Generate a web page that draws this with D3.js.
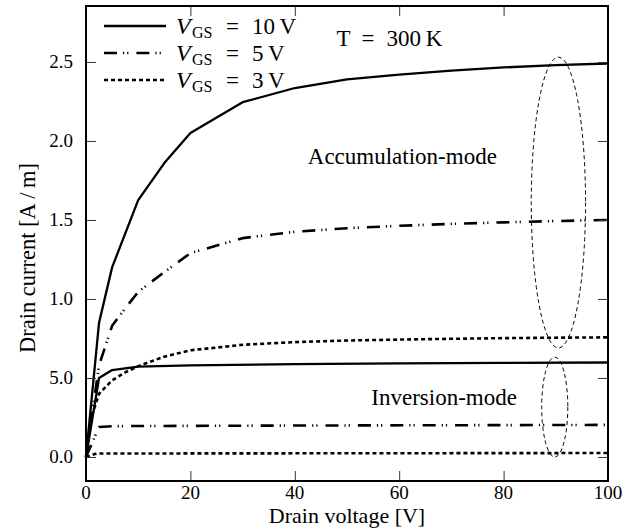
<!DOCTYPE html>
<html>
<head>
<meta charset="utf-8">
<script src="https://cdn.jsdelivr.net/npm/d3@7"></script>
<style>
  body { margin: 0; background: #fff; }
  svg { font-family: "Liberation Serif", "Times New Roman", serif; }
</style>
</head>
<body>
<svg id="chart" width="637" height="531"></svg>
<script>
// drain voltage / current values
const accX10 = [0, 2.5, 5, 10, 15, 20, 30, 40, 50, 60, 70, 80, 90, 100];
const accY10 = [0, 0.85, 1.2, 1.625, 1.86, 2.05, 2.245, 2.335, 2.39, 2.42, 2.445, 2.465, 2.48, 2.49];
const accX5 = [0, 2.5, 5, 7.5, 10, 15, 20, 30, 40, 50, 60, 70, 80, 90, 100];
const accY5 = [0, 0.58, 0.83, 0.94, 1.045, 1.17, 1.29, 1.385, 1.425, 1.448, 1.463, 1.475, 1.485, 1.493, 1.5];
const accX3 = [0, 1, 2.5, 5, 7.5, 10, 15, 20, 30, 40, 50, 60, 70, 80, 90, 100];
const accY3 = [0, 0.25, 0.4, 0.485, 0.535, 0.575, 0.635, 0.675, 0.71, 0.727, 0.737, 0.743, 0.748, 0.752, 0.755, 0.757];
const invX10 = [0, 2.5, 5, 10, 20, 40, 60, 80, 100];
const invY10 = [0, 0.5, 0.55, 0.572, 0.58, 0.588, 0.592, 0.596, 0.598];
const invX5 = [0, 2.5, 5, 10, 40, 100];
const invY5 = [0, 0.19, 0.195, 0.196, 0.199, 0.203];
const invX3 = [0, 2, 100];
const invY3 = [0, 0.022, 0.025];

const xTicks = [0, 20, 40, 60, 80, 100];
const yTicks = [0, 0.5, 1.0, 1.5, 2.0, 2.5];
const yTickLabels = ["0.0", "5.0", "1.0", "1.5", "2.0", "2.5"];
const legendVgs = ["10", "5", "3"];

const svg = d3.select("#chart");
const pLeft = 86, pRight = 608, pTop = 6, pBottom = 481;

const x = d3.scaleLinear().domain([0, 100]).range([pLeft, pRight]);
const y = d3.scaleLinear().domain([-0.152, 2.854]).range([pBottom, pTop]);

// line styles
const styles = [
  { width: 2.3, dash: null },
  { width: 2.6, dash: "13,6,1.2,3,1.2,8" },
  { width: 2.6, dash: "4,3" }
];

const series = [
  { xs: accX10, ys: accY10, s: 0 },
  { xs: accX5, ys: accY5, s: 1 },
  { xs: accX3, ys: accY3, s: 2 },
  { xs: invX10, ys: invY10, s: 0 },
  { xs: invX5, ys: invY5, s: 1 },
  { xs: invX3, ys: invY3, s: 2 }
];

const line = d3.line().x(d => x(d[0])).y(d => y(d[1]));

series.forEach(sr => {
  const pts = sr.xs.map((v, i) => [v, sr.ys[i]]);
  const st = styles[sr.s];
  svg.append("path")
    .attr("d", line(pts))
    .attr("fill", "none")
    .attr("stroke", "#000")
    .attr("stroke-width", st.width)
    .attr("stroke-linejoin", "round")
    .attr("stroke-dasharray", st.dash);
});

// dashed ellipses (data units)
const ellCx = [90.5, 89.8];
const ellCy = [1.61, 0.316];
const ellRx = [5.2, 2.5];
const ellRy = [0.92, 0.316];

ellCx.forEach((cx, i) => {
  svg.append("ellipse")
    .attr("cx", x(cx))
    .attr("cy", y(ellCy[i]))
    .attr("rx", x(cx + ellRx[i]) - x(cx))
    .attr("ry", y(ellCy[i] - ellRy[i]) - y(ellCy[i]))
    .attr("fill", "none")
    .attr("stroke", "#000")
    .attr("stroke-width", 1)
    .attr("stroke-dasharray", "4,3");
});

// axes with inward ticks on all four sides
const tickLen = 10;
svg.append("g")
  .attr("transform", `translate(0,${pBottom})`)
  .call(d3.axisTop(x).tickValues(xTicks).tickSize(tickLen).tickFormat(""))
  .call(g => g.select(".domain").remove());
svg.append("g")
  .attr("transform", `translate(0,${pTop})`)
  .call(d3.axisBottom(x).tickValues(xTicks).tickSize(tickLen).tickFormat(""))
  .call(g => g.select(".domain").remove());
svg.append("g")
  .attr("transform", `translate(${pLeft},0)`)
  .call(d3.axisRight(y).tickValues(yTicks).tickSize(tickLen).tickFormat(""))
  .call(g => g.select(".domain").remove());
svg.append("g")
  .attr("transform", `translate(${pRight},0)`)
  .call(d3.axisLeft(y).tickValues(yTicks).tickSize(tickLen).tickFormat(""))
  .call(g => g.select(".domain").remove());
svg.selectAll(".tick line").attr("stroke", "#333").attr("stroke-width", 1);

svg.append("rect")
  .attr("x", pLeft).attr("y", pTop)
  .attr("width", pRight - pLeft).attr("height", pBottom - pTop)
  .attr("fill", "none").attr("stroke", "#000").attr("stroke-width", 2);

// tick labels
svg.selectAll(".xl").data(xTicks).enter().append("text")
  .attr("x", d => x(d)).attr("y", 499)
  .attr("text-anchor", "middle").attr("font-size", 19)
  .text(d => d);
svg.selectAll(".yl").data(yTicks).enter().append("text")
  .attr("x", 73).attr("y", d => y(d) + 6.5)
  .attr("text-anchor", "end").attr("font-size", 19)
  .text((d, i) => yTickLabels[i]);

// axis titles
svg.append("text")
  .attr("x", 347).attr("y", 523)
  .attr("text-anchor", "middle").attr("font-size", 22)
  .text("Drain voltage [V]");
svg.append("text")
  .attr("transform", "translate(35,258) rotate(-90)")
  .attr("text-anchor", "middle").attr("font-size", 22.5)
  .text("Drain current [A\u2009/\u2009m]");

// legend
legendVgs.forEach((v, i) => {
  const ly = 26 + i * 27;
  const st = styles[i];
  svg.append("line")
    .attr("x1", 104).attr("x2", 166).attr("y1", ly).attr("y2", ly)
    .attr("stroke", "#000").attr("stroke-width", st.width)
    .attr("stroke-dasharray", st.dash);
  const ty = ly + 8;
  svg.append("text").attr("x", 176).attr("y", ty).attr("font-size", 24)
    .attr("font-style", "italic").text("V");
  svg.append("text").attr("x", 192).attr("y", ty + 4).attr("font-size", 16).text("GS");
  svg.append("text").attr("x", 226).attr("y", ty).attr("font-size", 23).text("=");
  svg.append("text").attr("x", 252).attr("y", ty).attr("font-size", 23)
    .text(v + "\u2009V");
});

// annotations
svg.append("text").attr("x", x(48)).attr("y", y(2.6)).attr("font-size", 23).text("T");
svg.append("text").attr("x", x(48) + 25).attr("y", y(2.6)).attr("font-size", 23).text("=");
svg.append("text").attr("x", x(48) + 50).attr("y", y(2.6)).attr("font-size", 23)
  .text("300\u2009K");
svg.append("text")
  .attr("x", x(60.6)).attr("y", y(1.854)).attr("font-size", 23)
  .attr("text-anchor", "middle").text("Accumulation-mode");
svg.append("text")
  .attr("x", x(68.6)).attr("y", y(0.329)).attr("font-size", 23)
  .attr("text-anchor", "middle").text("Inversion-mode");
</script>
</body>
</html>
